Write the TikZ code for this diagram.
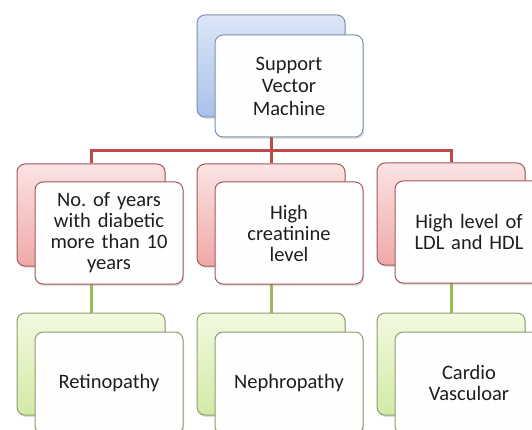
\documentclass[tikz,border=0pt]{standalone}
\usepackage{fontspec}
\setmainfont{Carlito}
\usetikzlibrary{shadows,backgrounds}
\definecolor{blueT}{HTML}{DCE6F7}
\definecolor{blueB}{HTML}{A9C1EA}
\definecolor{blueBd}{HTML}{8090AA}
\definecolor{redT}{HTML}{FBE3E3}
\definecolor{redB}{HTML}{EFA9A8}
\definecolor{redBd}{HTML}{A05A5C}
\definecolor{grnT}{HTML}{F2F9DF}
\definecolor{grnB}{HTML}{D3EAA6}
\definecolor{grnBd}{HTML}{8E9C72}
\definecolor{redLine}{HTML}{BE4B48}
\definecolor{grnLine}{HTML}{9BBB59}
\definecolor{txt}{HTML}{1E1E1E}
\tikzset{
  x=1pt, y=-1pt,
  boxbase/.style={rounded corners=8pt, minimum width=148pt, minimum height=102pt, inner sep=0pt, line width=1pt,
    drop shadow={opacity=0.25, shadow xshift=1pt, shadow yshift=-2pt}},
  backblue/.style={boxbase, draw=blueBd, top color=blueT, bottom color=blueB},
  backred/.style={boxbase, draw=redBd, top color=redT, bottom color=redB},
  backgrn/.style={boxbase, draw=grnBd, top color=grnT, bottom color=grnB},
  frontbox/.style={boxbase, align=center, text width=140pt, text=txt,
    font=\fontsize{20.5}{21}\selectfont},
  frontblue/.style={frontbox, draw=blueBd, fill=white!94!blueT,
    font=\fontsize{20.5}{22.5}\selectfont},
  frontred/.style={frontbox, draw=redBd, fill=white!92!redT},
  frontgrn/.style={frontbox, draw=grnBd, fill=white!92!grnT},
  redconn/.style={draw=redLine, line width=3pt},
  grnconn/.style={draw=grnLine, line width=3pt},
}
\begin{document}
\frenchspacing
\begin{tikzpicture}
\useasboundingbox (0,0) rectangle (532,430);
\clip (0,0) rectangle (532,430);
% top
\node[backblue] (tb) at (271,66) {};
\node[frontblue] (tf) at (289,86) {Support\\Vector\\Machine};
% middle row
\node[backred] (lb) at (91,215) {};
\node[frontred] (lf) at (109,233) {No.\ of years\\with diabetic\\more than 10\\years};
\node[backred] (mb) at (271,215) {};
\node[frontred] (mf) at (289,233) {High\\creatinine\\level};
\node[backred] (rb) at (451,214) {};
\node[frontred] (rf) at (469,232) {High level of\\LDL and HDL};
% bottom row
\node[backgrn] (lgb) at (91,364) {};
\node[frontgrn] (lgf) at (109,383) {Retinopathy};
\node[backgrn] (mgb) at (271,364) {};
\node[frontgrn] (mgf) at (289,383) {Nephropathy};
\node[backgrn] (rgb) at (451,364) {};
\node[frontgrn] (rgf) at (469,383) {Cardio\\Vasculoar};
\coordinate (bus) at (0,151);
\begin{pgfonlayer}{background}
\draw[redconn] (tb.south) -- (tb.south |- bus);
\draw[redconn] (lb.north) -- (lb.north |- bus) -- (rb.north |- bus) -- (rb.north);
\draw[redconn] (mb.north) -- (mb.north |- bus);
\draw[grnconn] (lb.center) -- (lgb.north);
\draw[grnconn] (mb.center) -- (mgb.north);
\draw[grnconn] (rb.center) -- (rgb.north);
\end{pgfonlayer}
\end{tikzpicture}
\end{document}
